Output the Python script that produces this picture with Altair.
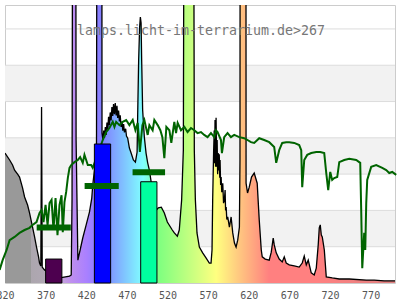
import altair as alt
import pandas as pd

# ---- data ----
spec_wl = [320, 325.7, 329.3, 331.8, 335.5, 337.9, 341.6, 344.1, 347.8, 350.2, 353.9, 356.4, 358.8,
           361.3, 362.5, 364.1, 365.0, 365.8, 368.6, 374.8, 380.9, 389.2, 394.5, 399.4, 401.5, 402.5,
           403.5, 406.9, 407.5, 409.7, 415.7, 419.9, 424.0, 426.8, 428.0, 430.1, 432.6, 433.4, 439.1,
           439.4, 440.5, 441.5, 442.4, 443.5, 444.5, 445.5, 446.4, 447.5, 448.5, 449.5, 450.6, 451.6,
           452.6, 453.6, 454.7, 455.7, 456.8, 457.8, 458.7, 459.8, 460.8, 461.8, 462.9, 464.0, 465.0,
           466.0, 467.0, 468.5, 469.5, 471.0, 473.1, 475.2, 478.0, 480.5, 482.6, 483.3, 484.5, 485.7,
           486.6, 487.5, 488.2, 489.4, 491.5, 493.6, 495.6, 497.7, 501.4, 506.3, 508.7, 512.4, 516.1,
           519.8, 525.9, 528.4, 532.1, 534.5, 537.4, 539.5, 540.7, 551.8, 553.0, 554.3, 556.3, 559.2,
           563.3, 567.4, 571.5, 573.6, 574.8, 575.6, 576.8, 577.5, 578.0, 578.5, 579.2, 579.8, 580.5,
           581.1, 581.7, 582.4, 583.0, 583.7, 584.3, 584.7, 585.4, 586.0, 586.8, 588.0, 589.0, 590.0,
           590.9, 591.5, 592.2, 593.0, 594.1, 596.2, 598.3, 600.3, 602.4, 604.4, 606.4, 608.5, 609.2,
           609.5, 616.5, 616.7, 618.5, 620.6, 623.4, 626.7, 630.4, 632.9, 635.4, 636.6, 640.3, 645.2,
           647.7, 650.1, 651.4, 653.8, 657.5, 661.2, 663.7, 666.1, 669.8, 676.0, 682.1, 685.8, 688.3,
           690.8, 693.2, 696.9, 700.6, 703.1, 705.5, 706.8, 708.0, 709.3, 710.5, 713.0, 715.4, 722.8,
           731.4, 743.7, 764.6, 774.4, 786.7, 800]
spec_val = [3.58, 3.39, 3.25, 3.11, 3.00, 2.92, 2.62, 2.37, 2.15, 1.93, 1.54, 1.27, 0.99,
            0.72, 0.55, 0.47, 4.85, 0.44, 0.36, 0.28, 0.22, 0.15, 0.17, 0.19, 0.22, 2.3,
            15, 15, 3.94, 0.63, 1.24, 1.60, 1.96, 2.34, 2.70, 3.11, 3.66, 15, 15,
            4.13, 3.95, 4.20, 4.00, 4.30, 4.08, 4.42, 4.20, 4.58, 4.35, 4.70, 4.48, 4.85,
            4.60, 4.93, 4.65, 4.96, 4.62, 4.88, 4.55, 4.75, 4.45, 4.62, 4.30, 4.45, 4.20,
            4.38, 4.15, 4.25, 4.05, 3.99, 3.72, 3.58, 3.39, 3.33, 3.61, 4.63, 6.14, 7.05,
            7.33, 7.16, 6.14, 4.77, 4.02, 3.58, 3.31, 3.11, 2.56, 2.01, 2.07, 2.09, 1.93,
            1.68, 1.46, 1.38, 1.29, 1.46, 2.29, 3.66, 15, 15, 3.66, 2.29, 1.38, 0.99,
            0.83, 0.69, 0.55, 0.55, 0.91, 2.29, 3.66, 4.2, 3.3, 4.49, 3.2, 4.55, 3.2,
            3.94, 3.0, 3.58, 3.1, 3.55, 2.9, 3.39, 2.7, 2.92, 2.5, 2.75, 2.2, 2.29,
            2.56, 2.0, 2.09, 1.75, 1.82, 1.54, 1.82, 1.38, 1.10, 0.99, 1.18, 1.54, 3.39,
            15, 15, 2.75, 2.48, 2.64, 2.92, 3.03, 2.75, 1.74, 0.91, 0.72, 0.66, 0.63,
            0.85, 1.24, 1.05, 0.83, 0.66, 0.58, 0.72, 0.55, 0.50, 0.47, 0.44, 0.55, 0.74,
            0.50, 0.63, 0.28, 0.22, 0.41, 1.05, 1.52, 1.60, 1.32, 1.27, 0.91, 0.17, 0.14,
            0.11, 0.11, 0.08, 0.08, 0.06, 0.06]

green_wl = [313.4, 317.1, 322.0, 325.7, 331.8, 337.9, 344.1, 350.2, 353.9, 358.8, 362.5, 365.0,
            367.4, 369.9, 372.4, 374.8, 377.3, 379.7, 382.2, 384.6, 387.1, 389.6, 391.1, 393.2,
            395.3, 397.3, 399.4, 401.5, 405.5, 409.6, 412.5, 415.7, 417.8, 419.9, 421.9, 426.0,
            428.0, 433.8, 440.3, 444.5, 448.5, 452.6, 454.7, 456.8, 460.8, 464.9, 469.1, 473.1,
            477.2, 480.5, 483.3, 486.0, 489.1, 491.5, 495.6, 497.7, 501.7, 503.8, 507.9, 511.2,
            513.7, 516.1, 518.6, 522.3, 524.7, 528.4, 530.5, 532.5, 536.6, 540.7, 544.7, 548.9,
            553.0, 557.0, 561.2, 565.2, 569.3, 573.5, 577.5, 579.6, 581.6, 585.8, 587.0, 589.8,
            593.9, 598.1, 602.1, 608.3, 614.4, 618.5, 622.7, 626.7, 632.9, 639.0, 645.2, 651.3,
            653.8, 657.5, 661.2, 666.1, 669.8, 676.0, 682.1, 684.6, 685.8, 688.3, 692.0, 696.9,
            703.1, 708.0, 712.9, 715.4, 717.8, 720.3, 722.7, 725.2, 728.9, 731.4, 737.5, 743.7,
            752.3, 757.2, 758.4, 759.7, 762.1, 763.4, 764.6, 765.8, 770.7, 776.9, 784.3, 789.2,
            792.9, 796.6, 801.5]
green_val = [0.36, 0.63, 0.91, 1.18, 1.27, 1.38, 1.46, 1.52, 1.60, 1.68, 1.93, 2.01,
             1.68, 2.15, 1.60, 2.20, 2.29, 1.46, 2.34, 1.32, 2.15, 2.42, 1.40, 2.23,
             2.51, 2.89, 3.17, 3.25, 3.33, 3.39, 3.47, 3.31, 3.53, 3.39, 3.25, 3.25,
             3.17, 3.53, 3.94, 4.16, 4.27, 4.44, 4.30, 4.44, 4.35, 4.44, 4.49, 4.35,
             4.49, 4.21, 4.41, 3.61, 4.35, 4.49, 4.08, 4.35, 4.21, 4.49, 4.35, 4.21,
             4.02, 3.44, 4.30, 4.21, 3.86, 4.44, 4.13, 4.41, 4.21, 4.30, 4.16, 4.27,
             4.21, 4.13, 4.16, 4.08, 4.02, 4.13, 4.02, 4.21, 4.16, 3.94, 3.58, 4.02,
             4.13, 4.02, 4.08, 4.02, 3.99, 3.94, 3.88, 3.86, 3.99, 3.94, 3.88, 3.75,
             3.31, 3.66, 3.86, 3.88, 3.88, 3.86, 3.80, 3.66, 2.64, 3.39, 3.53, 3.58,
             3.61, 3.61, 3.58, 3.03, 2.56, 3.06, 2.84, 2.89, 2.92, 3.33, 3.39, 3.42,
             3.39, 3.31, 2.01, 0.41, 1.38, 0.91, 2.20, 2.84, 3.20, 3.25, 3.17, 3.11,
             3.03, 3.06, 2.98]

bar_lo = [370, 430, 487]
bar_hi = [390, 450, 507]
bar_top = [0.66, 3.83, 2.79]
bar_colors = ["#4d004f", "#0000ff", "#00ff9f"]

seg_lo = [359, 418, 477]
seg_hi = [401, 460, 517]
seg_val = [1.53, 2.67, 3.05]

grid_vals = [1, 2, 3, 4, 5, 6, 7]
band_lo = [1, 3, 5]
band_hi = [2, 4, 6]
tick_values = [320, 370, 420, 470, 520, 570, 620, 670, 720, 770]

grad_wl = [320, 351.5, 352, 370, 390, 400, 420, 440, 460, 480, 490, 500, 510, 545, 580, 612, 645, 705, 800]
grad_col = ["#999999", "#999999", "#aca6ae", "#b0a8b4", "#c4a4dc", "#c090ec", "#aa80ff", "#8080ff",
            "#80b3ff", "#80e6ff", "#80ffff", "#80ffbf", "#80ff80", "#bfff80", "#ffff80", "#ffc080",
            "#ff8080", "#ff8080", "#e08080"]

title_text = "lamps.licht-im-terrarium.de>267"

WL_MIN, WL_MAX = 320, 800
Y_MAX = 7.66

# ---- tables ----
spec = pd.DataFrame({"wl": spec_wl, "v": spec_val})
green = pd.DataFrame({"wl": green_wl, "v": green_val})
bars = pd.DataFrame({"lo": bar_lo, "hi": bar_hi, "top": bar_top, "c": bar_colors})
segs = pd.DataFrame({"lo": seg_lo, "hi": seg_hi, "v": seg_val})
grid = pd.DataFrame({"v": grid_vals})
bands = pd.DataFrame({"lo": band_lo, "hi": band_hi, "x0": [WL_MIN] * 3, "x1": [WL_MAX] * 3})

xs = alt.Scale(domain=[WL_MIN, WL_MAX], nice=False, zero=False)
ys = alt.Scale(domain=[0, Y_MAX], nice=False, zero=False)

x_axis = alt.Axis(values=tick_values, title=None, grid=False, ticks=False, tickSize=0,
                  domain=False, labelFlush=False, labelOverlap=False, labelPadding=7,
                  labelFont="DejaVu Sans Mono", labelFontSize=10, labelColor="#555555")

stops = [alt.GradientStop(offset=(w - WL_MIN) / (WL_MAX - WL_MIN), color=c) for w, c in zip(grad_wl, grad_col)]
grad = alt.Gradient(gradient="linear", stops=stops, x1=0, x2=1, y1=0, y2=0)

band_layer = alt.Chart(bands).mark_rect(color="#f2f2f2").encode(
    x=alt.X("x0:Q", scale=xs, axis=x_axis),
    x2="x1:Q",
    y=alt.Y("lo:Q", scale=ys, axis=None),
    y2="hi:Q",
)

grid_layer = alt.Chart(grid).mark_rule(color="#dcdcdc", strokeWidth=1).encode(
    y=alt.Y("v:Q", scale=ys, axis=None),
)

area_layer = alt.Chart(spec).mark_area(clip=True, color=grad, interpolate="linear").encode(
    x=alt.X("wl:Q", scale=xs, axis=x_axis),
    y=alt.Y("v:Q", scale=ys, axis=None),
)

line_layer = alt.Chart(spec).mark_line(clip=True, color="black", strokeWidth=1.3).encode(
    x=alt.X("wl:Q", scale=xs, axis=x_axis),
    y=alt.Y("v:Q", scale=ys, axis=None),
)

green_layer = alt.Chart(green).mark_line(color="#006400", strokeWidth=2).encode(
    x=alt.X("wl:Q", scale=xs, axis=x_axis),
    y=alt.Y("v:Q", scale=ys, axis=None),
)

bar_layer = alt.Chart(bars).mark_rect(stroke="black", strokeWidth=1).encode(
    x=alt.X("lo:Q", scale=xs, axis=x_axis),
    x2="hi:Q",
    y=alt.Y("top:Q", scale=ys, axis=None),
    y2=alt.datum(0),
    color=alt.Color("c:N", scale=None),
)

seg_layer = alt.Chart(segs).mark_rule(color="#006400", strokeWidth=6).encode(
    x=alt.X("lo:Q", scale=xs, axis=x_axis),
    x2="hi:Q",
    y=alt.Y("v:Q", scale=ys, axis=None),
)

text_layer = alt.Chart(pd.DataFrame({"t": [title_text]})).mark_text(
    font="DejaVu Sans Mono", fontSize=13.3, color="#777777", align="center", baseline="middle"
).encode(
    text="t:N",
    x=alt.value(196),
    y=alt.value(26),
)

chart = alt.layer(
    band_layer, grid_layer, area_layer, line_layer, green_layer, bar_layer, seg_layer, text_layer
).properties(
    width=390,
    height=278,
    autosize=alt.AutoSizeParams(type="none"),
    padding={"left": 5, "top": 5, "right": 5, "bottom": 17},
    background="white",
).configure_view(
    stroke="#cccccc", strokeWidth=1
)

chart.save("out.html", embed_options={"renderer": "svg", "actions": False})
